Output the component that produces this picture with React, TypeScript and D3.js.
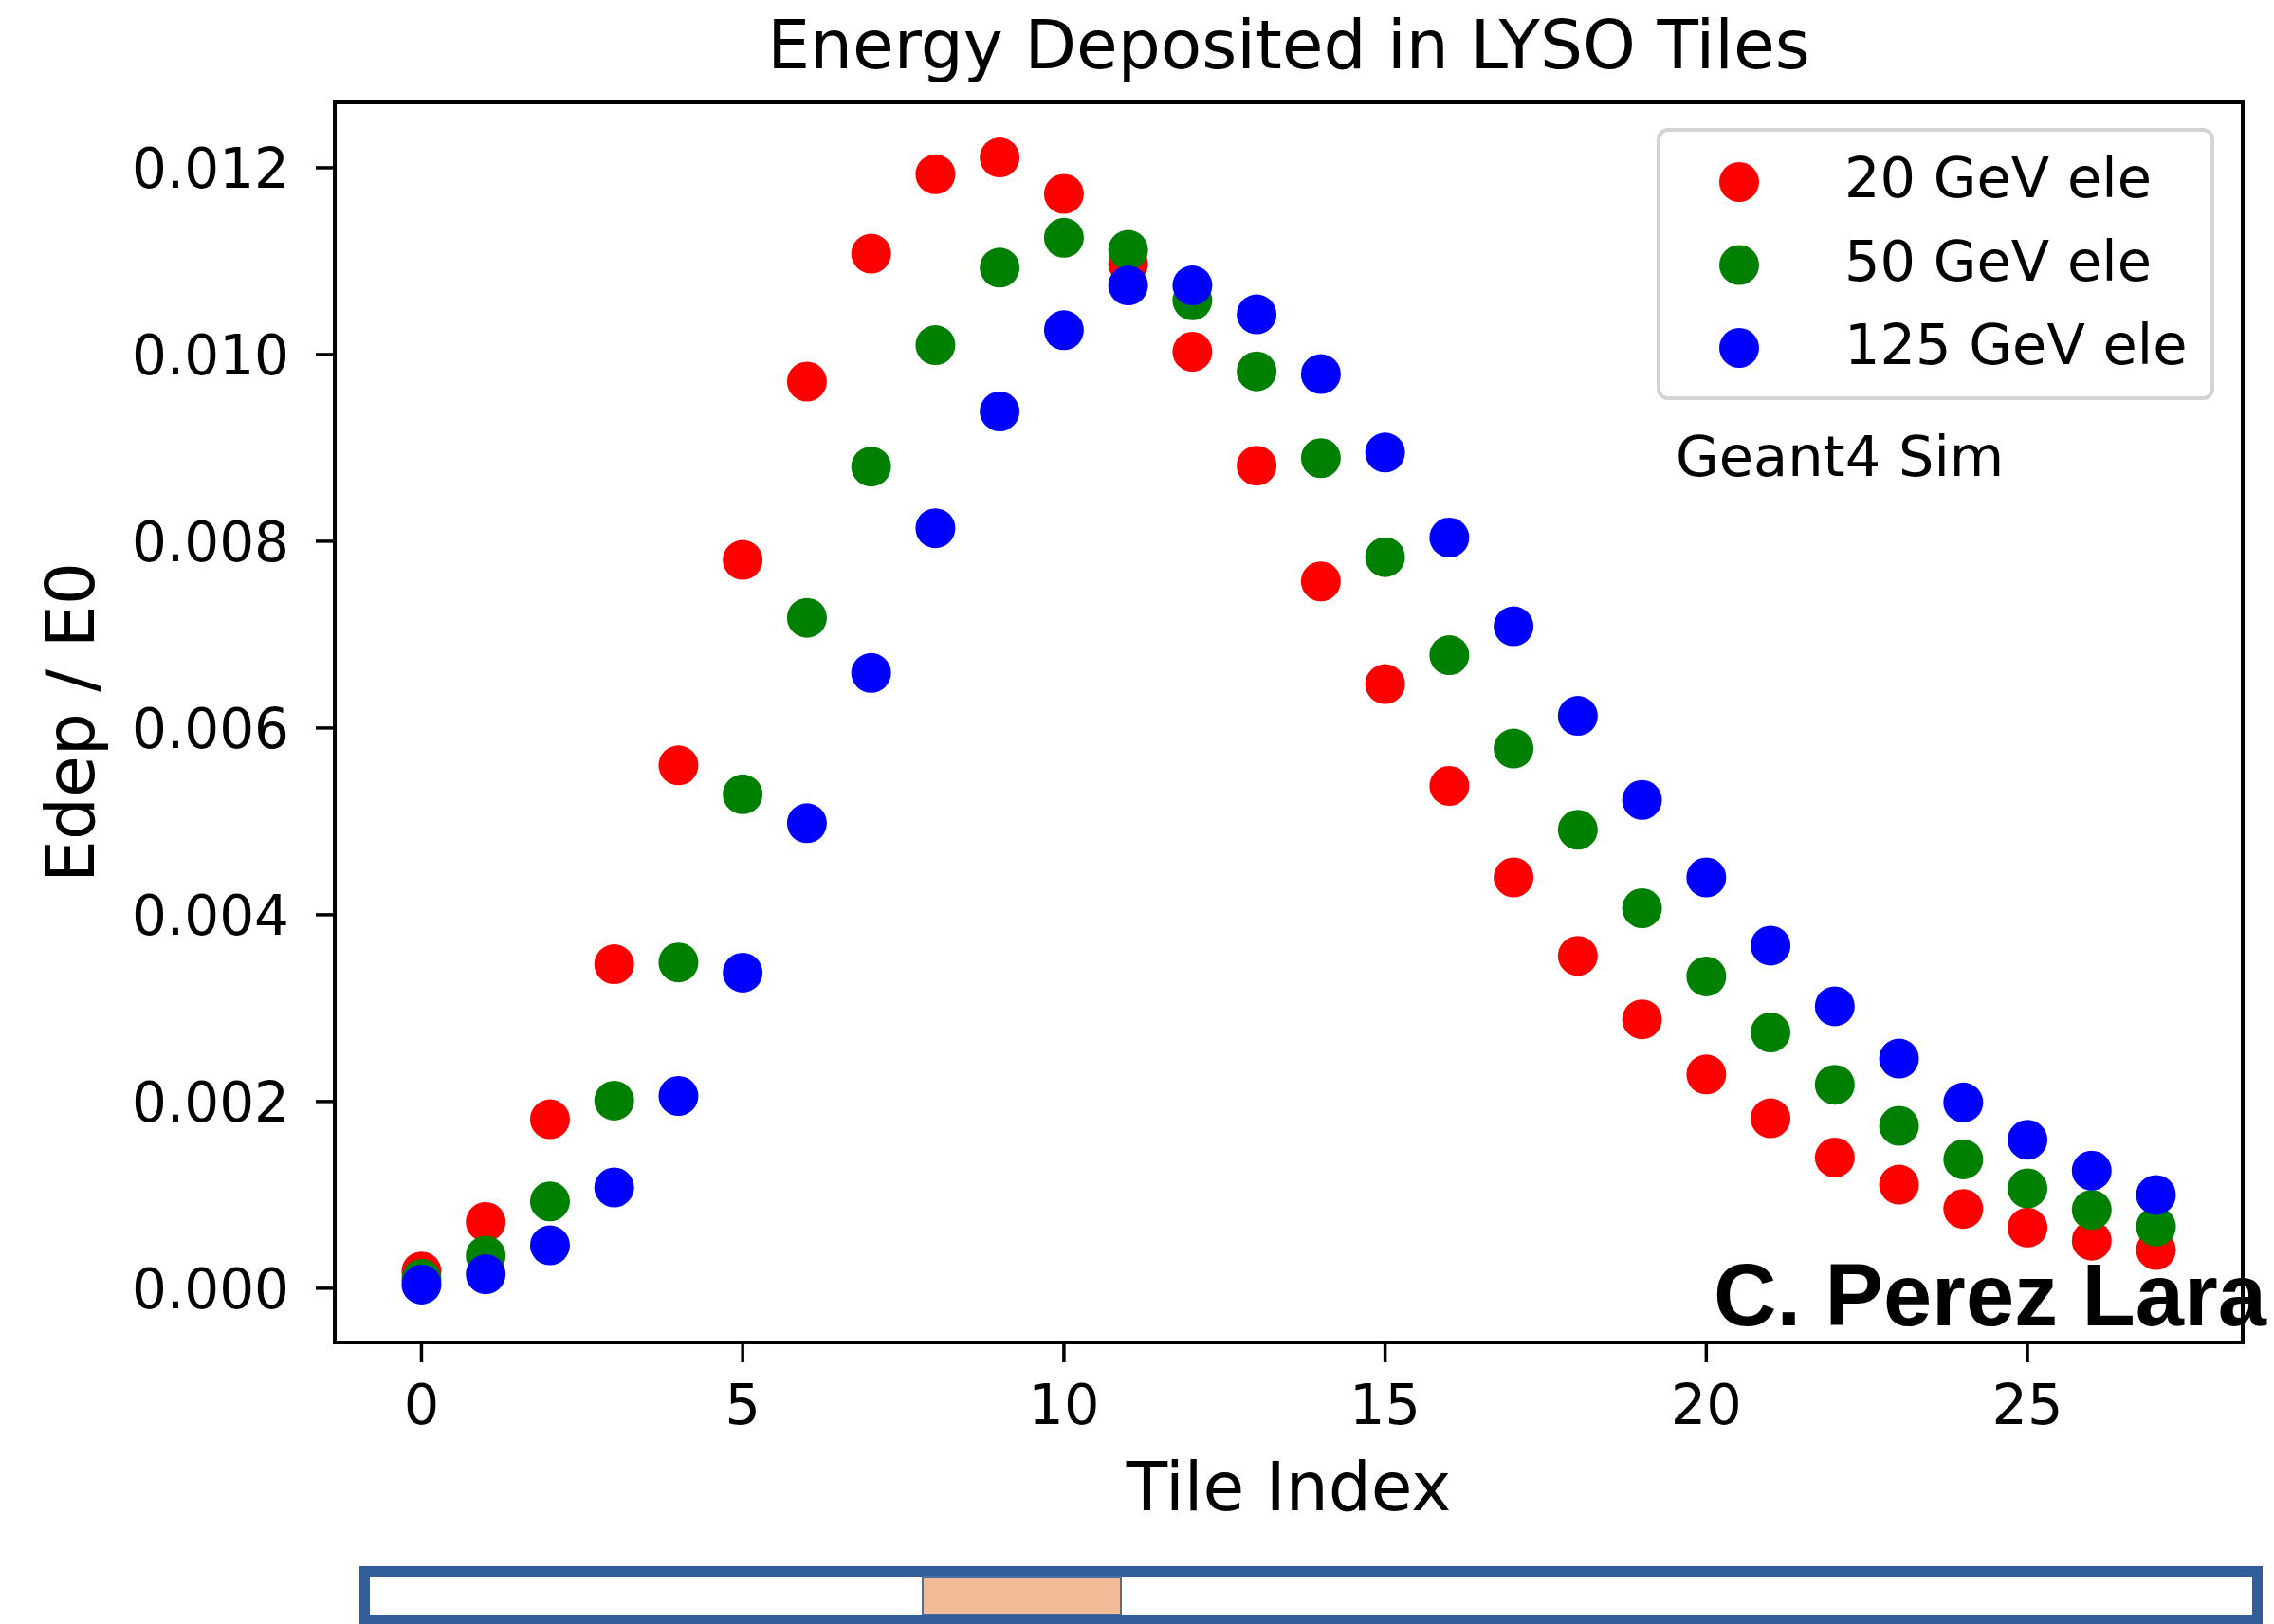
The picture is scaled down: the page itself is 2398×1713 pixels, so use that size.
import React from "react";
import * as d3 from "d3";

const tiles = d3.range(0, 28);
const ele20 = [0.00018, 0.00071, 0.00181, 0.00347, 0.0056, 0.0078, 0.00971, 0.01108, 0.01193, 0.01211, 0.01172, 0.01097, 0.01003, 0.00881, 0.00757, 0.00647, 0.00538, 0.0044, 0.00356, 0.00288, 0.00229, 0.00182, 0.0014, 0.00111, 0.00085, 0.00065, 0.00051, 0.00041];
const ele50 = [0.0001, 0.00035, 0.00093, 0.00201, 0.00349, 0.00529, 0.00718, 0.0088, 0.0101, 0.01093, 0.01125, 0.01112, 0.01058, 0.00982, 0.00889, 0.00783, 0.00678, 0.00578, 0.00491, 0.00407, 0.00334, 0.00274, 0.00218, 0.00174, 0.00138, 0.00107, 0.00084, 0.00066];
const ele125 = [0.00004, 0.00015, 0.00046, 0.00108, 0.00206, 0.00338, 0.00498, 0.00659, 0.00814, 0.00939, 0.01026, 0.01074, 0.01074, 0.01043, 0.00979, 0.00895, 0.00804, 0.00709, 0.00613, 0.00523, 0.0044, 0.00367, 0.00302, 0.00246, 0.00199, 0.00159, 0.00126, 0.001];

const seriesNames = ["20 GeV ele", "50 GeV ele", "125 GeV ele"];
const seriesColors = ["#ff0000", "#008000", "#0000ff"];
const seriesValues = [ele20, ele50, ele125];

const xTicks = [0, 5, 10, 15, 20, 25];
const yTicks = [0, 0.002, 0.004, 0.006, 0.008, 0.01, 0.012];

const W = 2398;
const H = 1713;
const FL = 353, FR = 2365, FT = 108, FB = 1416;
const FONT = "DejaVu Sans, sans-serif";

export default function App() {
  const x = d3.scaleLinear().domain([-1.35, 28.35]).range([FL, FR]);
  const y = d3.scaleLinear().domain([-0.00058, 0.0127]).range([FB, FT]);
  const r = 21;

  return (
    <svg
      width={W}
      height={H}
      style={{ position: "absolute", left: 0, top: 0, background: "#fff" }}
    >
      <rect x={0} y={0} width={W} height={H} fill="#fff" />
      {/* title */}
      <text x={(FL + FR) / 2} y={72} textAnchor="middle" fontFamily={FONT} fontSize={71} fill="#000">
        Energy Deposited in LYSO Tiles
      </text>

      {/* points */}
      {seriesValues.map((vals, si) => (
        <g key={si}>
          {vals.map((v, i) => (
            <circle key={i} cx={x(tiles[i])} cy={y(v)} r={r} fill={seriesColors[si]} />
          ))}
        </g>
      ))}

      {/* frame */}
      <rect x={FL} y={FT} width={FR - FL} height={FB - FT} fill="none" stroke="#000" strokeWidth={4} />

      {/* y ticks */}
      {yTicks.map((t) => (
        <g key={t}>
          <line x1={FL - 20} x2={FL} y1={y(t)} y2={y(t)} stroke="#000" strokeWidth={3.5} />
          <text x={FL - 48} y={y(t)} dy="0.36em" textAnchor="end" fontFamily={FONT} fontSize={58} fill="#000">
            {d3.format(".3f")(t)}
          </text>
        </g>
      ))}

      {/* x ticks */}
      {xTicks.map((t) => (
        <g key={t}>
          <line x1={x(t)} x2={x(t)} y1={FB} y2={FB + 21} stroke="#000" strokeWidth={3.5} />
          <text x={x(t)} y={1502} textAnchor="middle" fontFamily={FONT} fontSize={59} fill="#000">
            {t}
          </text>
        </g>
      ))}

      {/* axis labels */}
      <text x={(FL + FR) / 2} y={1593} textAnchor="middle" fontFamily={FONT} fontSize={71} fill="#000">
        Tile Index
      </text>
      <text
        transform={`translate(99, ${(FT + FB) / 2}) rotate(-90)`}
        textAnchor="middle"
        fontFamily={FONT}
        fontSize={71}
        fill="#000"
      >
        Edep / E0
      </text>

      {/* legend */}
      <rect x={1749} y={137} width={584} height={283} rx={10} ry={10} fill="#fff" fillOpacity={0.8} stroke="#d3d3d3" strokeWidth={4} />
      {seriesNames.map((name, i) => (
        <g key={name}>
          <circle cx={1834} cy={192 + i * 87.5} r={r} fill={seriesColors[i]} />
          <text x={1945} y={208 + i * 88} fontFamily={FONT} fontSize={59} fill="#000">
            {name}
          </text>
        </g>
      ))}

      <text x={1767} y={502} fontFamily={FONT} fontSize={59} fill="#000">
        Geant4 Sim
      </text>

      {/* author */}
      <text x={1807} y={1398} fontFamily="Liberation Sans, Arial, sans-serif" fontWeight="bold" fontSize={92} fill="#000">
        C. Perez Lara
      </text>

      {/* bottom bar */}
      <rect x={384.5} y={1657.5} width={1996} height={51} fill="#fff" stroke="#325d9b" strokeWidth={11} />
      <rect x={973} y={1663} width={209} height={40} fill="#f3bb95" stroke="#4a6fa5" strokeWidth={2} />
    </svg>
  );
}
